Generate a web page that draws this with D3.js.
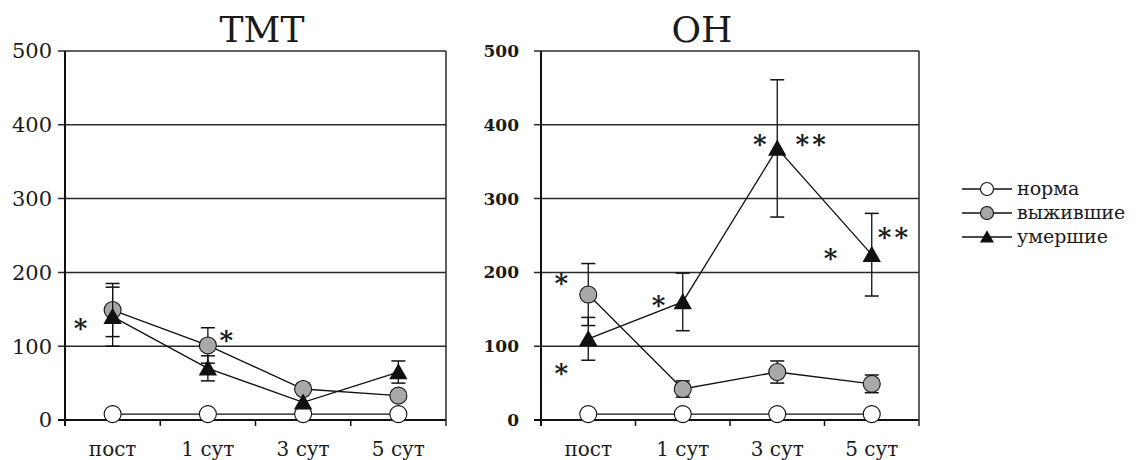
<!DOCTYPE html>
<html>
<head>
<meta charset="utf-8">
<script src="https://cdn.jsdelivr.net/npm/d3@7"></script>
<style>
  html, body { margin: 0; padding: 0; background: #fff; }
  svg { display: block; font-family: "DejaVu Serif", "Liberation Serif", serif; }
</style>
</head>
<body>
<svg id="chart" width="1146" height="460"></svg>
<script>
const categories = ["пост", "1 сут", "3 сут", "5 сут"];
const seriesNames = ["норма", "выжившие", "умершие"];
const yTicks = [0, 100, 200, 300, 400, 500];

// ТМТ
const tmtNorma = [8, 8, 8, 8];
const tmtNormaErr = [0, 0, 0, 0];
const tmtSurv = [149, 101, 42, 33];
const tmtSurvErr = [36, 24, 0, 0];
const tmtDead = [140, 70, 24, 65];
const tmtDeadErr = [40, 17, 0, 15];
const tmtNotes = [
  { i: -0.32, v: 134, t: "*" },
  { i: 1.21, v: 118, t: "*" },
];

// ОН
const ohNorma = [8, 8, 8, 8];
const ohNormaErr = [0, 0, 0, 0];
const ohSurv = [170, 42, 65, 49];
const ohSurvErr = [42, 11, 15, 12];
const ohDead = [110, 160, 368, 224];
const ohDeadErr = [29, 39, 93, 56];
const ohNotes = [
  { i: -0.27, v: 194, t: "*" },
  { i: -0.27, v: 73, t: "*" },
  { i: 0.76, v: 165, t: "*" },
  { i: 1.83, v: 383, t: "*" },
  { i: 2.37, v: 383, t: "**" },
  { i: 2.58, v: 228, t: "*" },
  { i: 3.24, v: 257, t: "**" },
];

const svg = d3.select("#chart");
const markerStyle = {
  "норма": { shape: "circle", fill: "#fff" },
  "выжившие": { shape: "circle", fill: "#a8a8a8" },
  "умершие": { shape: "triangle", fill: "#111" },
};

function drawMarker(g, shape, fill, x, y, size) {
  if (shape === "circle") {
    g.append("circle").attr("cx", x).attr("cy", y).attr("r", size)
      .attr("fill", fill).attr("stroke", "#111").attr("stroke-width", 1.1);
  } else {
    const w = size * 1.08, h = size * 1.9;
    g.append("path")
      .attr("d", `M${x},${y - h * 0.55}L${x + w},${y + h * 0.45}L${x - w},${y + h * 0.45}Z`)
      .attr("fill", fill);
  }
}

function panel(opts) {
  const { left, right, title, titleX, series, notes, tickFont, tickWeight, tickX } = opts;
  const g = svg.append("g");
  const x = d3.scaleBand().domain(categories).range([left, right]);
  const cx = (c) => x(c) + x.bandwidth() / 2;
  const xi = d3.scaleLinear().domain([0, categories.length - 1])
    .range([cx(categories[0]), cx(categories[categories.length - 1])]);
  const y = d3.scaleLinear().domain([0, 500]).range([420, 51]);

  // сетка и рамка
  g.selectAll("line.grid").data(yTicks.filter((d) => d > 0)).join("line")
    .attr("x1", left - 7).attr("x2", right)
    .attr("y1", (d) => y(d)).attr("y2", (d) => y(d))
    .attr("stroke", "#2a2a2a").attr("stroke-width", 1.5);
  g.append("line").attr("x1", left - 7).attr("x2", right)
    .attr("y1", y(0)).attr("y2", y(0)).attr("stroke", "#111").attr("stroke-width", 2);
  g.append("line").attr("x1", left).attr("x2", left)
    .attr("y1", y(500)).attr("y2", y(0) + 6).attr("stroke", "#111").attr("stroke-width", 2);
  g.append("line").attr("x1", right).attr("x2", right)
    .attr("y1", y(500)).attr("y2", y(0) + 6).attr("stroke", "#2a2a2a").attr("stroke-width", 1.5);
  g.selectAll("line.xt").data(categories.slice(1)).join("line")
    .attr("x1", (d) => x(d)).attr("x2", (d) => x(d))
    .attr("y1", y(0)).attr("y2", y(0) + 6).attr("stroke", "#111").attr("stroke-width", 1.5);

  // подписи осей
  g.selectAll("text.yt").data(yTicks).join("text")
    .attr("x", tickX).attr("y", (d) => y(d))
    .attr("dy", "0.35em").attr("text-anchor", "end")
    .attr("font-size", tickFont).attr("font-weight", tickWeight)
    .attr("fill", "#1a1a1a").text((d) => d);
  g.selectAll("text.xl").data(categories).join("text")
    .attr("x", cx).attr("y", 456).attr("text-anchor", "middle")
    .attr("font-size", 20).attr("fill", "#1a1a1a").text((d) => d);

  g.append("text").attr("x", titleX).attr("y", 42).attr("text-anchor", "middle")
    .attr("font-size", 36).attr("fill", "#1a1a1a").text(title);

  const line = d3.line().x((d, i) => cx(categories[i])).y((d) => y(d));
  series.forEach((s) => {
    const st = markerStyle[s.name];
    const sg = g.append("g");
    sg.append("path").attr("d", line(s.values)).attr("fill", "none")
      .attr("stroke", "#111").attr("stroke-width", 1.3);
    s.values.forEach((v, i) => {
      const e = s.err[i];
      if (!e) return;
      const px = cx(categories[i]);
      sg.append("line").attr("x1", px).attr("x2", px).attr("y1", y(v - e)).attr("y2", y(v + e))
        .attr("stroke", "#111").attr("stroke-width", 1.3);
      [v - e, v + e].forEach((b) => {
        sg.append("line").attr("x1", px - 7).attr("x2", px + 7).attr("y1", y(b)).attr("y2", y(b))
          .attr("stroke", "#111").attr("stroke-width", 1.5);
      });
    });
    s.values.forEach((v, i) => drawMarker(sg, st.shape, st.fill, cx(categories[i]), y(v), 8.5));
  });

  // звёздочки значимости
  const noteSize = 26;
  g.selectAll("text.note").data(notes).join("text")
    .attr("x", (d) => xi(d.i)).attr("y", (d) => y(d.v) + noteSize * 0.6)
    .attr("text-anchor", "middle").attr("font-size", noteSize).attr("font-weight", "bold")
    .attr("letter-spacing", 3).attr("fill", "#1a1a1a").text((d) => d.t);
}

panel({
  left: 65, right: 446, title: "ТМТ", titleX: 262,
  tickFont: 21, tickWeight: "normal", tickX: 52,
  series: [
    { name: "норма", values: tmtNorma, err: tmtNormaErr },
    { name: "выжившие", values: tmtSurv, err: tmtSurvErr },
    { name: "умершие", values: tmtDead, err: tmtDeadErr },
  ],
  notes: tmtNotes,
});

panel({
  left: 541, right: 919, title: "ОН", titleX: 702,
  tickFont: 17, tickWeight: "bold", tickX: 519,
  series: [
    { name: "норма", values: ohNorma, err: ohNormaErr },
    { name: "выжившие", values: ohSurv, err: ohSurvErr },
    { name: "умершие", values: ohDead, err: ohDeadErr },
  ],
  notes: ohNotes,
});

// легенда
const legY = d3.scalePoint().domain(seriesNames).range([189, 237]);
const lg = svg.append("g");
seriesNames.forEach((n) => {
  const yy = legY(n);
  const st = markerStyle[n];
  lg.append("line").attr("x1", 962).attr("x2", 1012).attr("y1", yy).attr("y2", yy)
    .attr("stroke", "#111").attr("stroke-width", 1.3);
  drawMarker(lg, st.shape, st.fill, 987, yy, 6.5);
  lg.append("text").attr("x", 1017).attr("y", yy).attr("dy", "0.32em")
    .attr("font-size", 19).attr("fill", "#1a1a1a").text(n);
});
</script>
</body>
</html>
